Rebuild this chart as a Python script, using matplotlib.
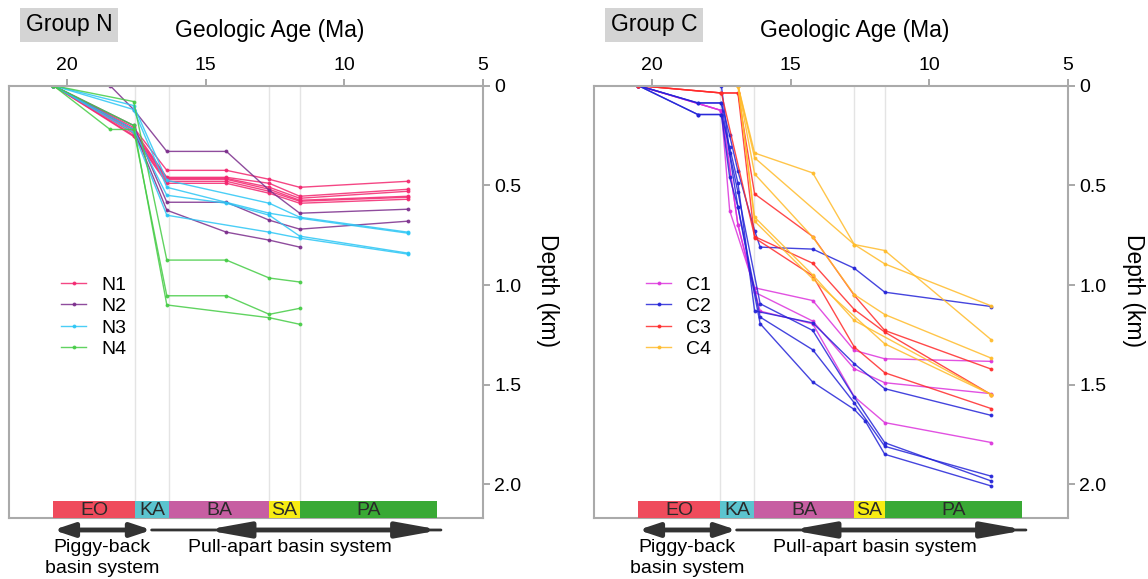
import numpy as np
import matplotlib.pyplot as plt

plt.rcParams['font.family'] = ['Liberation Sans', 'DejaVu Sans']

nan = np.nan

# ages (Ma) of the sampled horizons
age_n = [20.5, 18.45, 17.6, 16.4, 14.25, 12.7, 11.6, 7.7]
age_c = [20.5, 18.35, 17.5, 17.2, 16.9, 16.3, 16.1, 14.2, 12.7, 12.3, 11.6, 7.75]

# burial depth (km) per well, nan = no point at that age
n1 = [[0, nan, 0.21, 0.425, 0.425, 0.47, 0.51, 0.48],
      [0, nan, 0.22, 0.46, 0.46, 0.49, 0.555, 0.52],
      [0, nan, 0.23, 0.465, 0.465, 0.51, 0.565, 0.53],
      [0, nan, 0.24, 0.47, 0.47, 0.52, 0.575, 0.555],
      [0, nan, 0.25, 0.48, 0.48, 0.53, 0.58, 0.56],
      [0, nan, 0.255, 0.49, 0.49, 0.54, 0.59, 0.57]]
n2 = [[nan, 0, 0.12, 0.33, 0.33, 0.525, 0.64, 0.62],
      [0, nan, 0.2, 0.585, 0.585, 0.675, 0.72, 0.68],
      [0, nan, 0.22, 0.625, 0.735, 0.775, 0.81, nan]]
n3 = [[0, nan, 0.1, 0.475, nan, 0.59, 0.66, 0.735],
      [0, nan, 0.12, 0.51, nan, 0.64, 0.665, 0.74],
      [0, nan, 0.22, 0.55, 0.59, 0.65, 0.755, 0.84],
      [0, nan, 0.235, 0.65, nan, 0.735, 0.765, 0.845]]
n4 = [[0, nan, 0.08, 0.875, 0.875, 0.965, 0.985, nan],
      [0, 0.22, 0.22, 1.054, 1.054, 1.147, 1.117, nan],
      [0, nan, 0.2, 1.1, nan, 1.164, 1.197, nan]]

c1 = [[0, nan, 0.125, 0.627, nan, 1.014, nan, 1.078, 1.328, nan, 1.37, 1.383],
      [0, nan, 0.125, nan, 0.70, 1.036, nan, 1.181, 1.42, nan, 1.49, 1.545],
      [0, nan, 0.125, nan, 0.70, nan, 1.131, 1.195, 1.56, nan, 1.69, 1.79]]
c2 = [[0, 0.087, 0.087, 0.25, 0.43, 0.727, 0.81, 0.82, 0.916, nan, 1.036, 1.108],
      [0, 0.145, 0.145, 0.31, 0.49, 1.13, nan, 1.19, 1.395, nan, 1.52, 1.654],
      [nan, nan, 0, 0.34, 0.535, nan, 1.094, 1.228, 1.563, nan, 1.791, 1.983],
      [0, 0.145, 0.145, 0.46, 0.61, nan, 1.161, 1.325, 1.591, nan, 1.809, 1.959],
      [0, 0.087, 0.087, nan, 0.61, nan, 1.194, 1.487, 1.624, 1.683, 1.849, 2.008]]
c3 = [[0, nan, 0.037, nan, 0.037, 0.543, nan, 0.757, 1.052, nan, 1.228, 1.422],
      [0, nan, 0.037, nan, nan, 0.757, nan, 0.891, 1.123, nan, 1.236, 1.55],
      [0, nan, 0.037, nan, 0.037, 0.764, nan, 0.954, 1.311, nan, 1.44, 1.62]]
c4 = [[nan, nan, nan, nan, 0, 0.338, nan, 0.438, 0.797, nan, 0.827, 1.275],
      [nan, nan, nan, nan, 0, 0.362, nan, nan, 0.797, nan, 0.894, 1.105],
      [nan, nan, nan, nan, 0, 0.443, nan, 0.76, 1.048, nan, 1.148, 1.367],
      [nan, nan, nan, nan, 0, 0.68, nan, 0.969, nan, nan, 1.295, 1.55],
      [nan, nan, nan, nan, 0, 0.66, nan, 0.95, 1.178, nan, nan, 1.55]]

# stratigraphic stages along the bottom
stage_names = ['EO', 'KA', 'BA', 'SA', 'PA']
stage_start = [20.5, 17.55, 16.33, 12.7, 11.6]
stage_end = [17.55, 16.33, 12.7, 11.6, 6.65]
stage_colors = ['#ef4b5c', '#5bc4cf', '#c75ea2', '#f7ec13', '#39a935']

age_ticks = [20, 15, 10, 5]
depth_ticks = [0, 0.5, 1.0, 1.5, 2.0]
depth_ticklabels = ['0', '0.5', '1.0', '1.5', '2.0']

panels = [
    ('Group N', age_n, [('N1', n1, '#f3266f'), ('N2', n2, '#7b2d8c'),
                        ('N3', n3, '#2bc6f5'), ('N4', n4, '#45cc45')]),
    ('Group C', age_c, [('C1', c1, '#dc33dc'), ('C2', c2, '#2424d8'),
                        ('C3', c3, '#ff2a2a'), ('C4', c4, '#ffbb2a')]),
]

fig = plt.figure(figsize=(11.48, 5.79), dpi=100)
W, H = 1148, 579
lefts = [9, 594]
ax_w, ax_top, ax_bot = 473.5, 85.6, 518.3

for (title, ages, series), x0 in zip(panels, lefts):
    ax = fig.add_axes([x0 / W, 1 - ax_bot / H, ax_w / W, (ax_bot - ax_top) / H])
    ax.set_xlim(22.1, 5)
    ax.set_ylim(2.17, 0)

    for b in stage_end[:-1]:
        ax.axvline(b, color='#e4e4e4', lw=1, zorder=0)

    for name, wells, color in series:
        for i, d in enumerate(wells):
            d = np.array(d, dtype=float)
            m = ~np.isnan(d)
            ax.plot(np.array(ages)[m], d[m], color=color, lw=1, alpha=0.85,
                    marker='o', ms=1.8, label=name if i == 0 else None)

    for s, e, c, lab in zip(stage_start, stage_end, stage_colors, stage_names):
        ax.fill_between([s, e], 2.085, 2.17, color=c, lw=0, zorder=3)
        ax.text((s + e) / 2, 2.13, lab, ha='center', va='center', fontsize=14,
                color='#2a2a2a', zorder=4)

    ax.xaxis.tick_top()
    ax.yaxis.tick_right()
    ax.set_xticks(age_ticks)
    ax.set_yticks(depth_ticks)
    ax.set_yticklabels(depth_ticklabels)
    ax.tick_params(labelsize=14, color='#999999', length=5, width=1.2)
    for sp in ax.spines.values():
        sp.set_color('#aaaaaa')
        sp.set_linewidth(1.5)

    ax.legend(loc='upper left', bbox_to_anchor=(0.11, 0.56), frameon=False,
              fontsize=14, handlelength=1.3, handletextpad=0.75,
              labelspacing=0.2, borderpad=0, borderaxespad=0)

    # basin system arrows below the stage bar
    trans = ('data', 'axes fraction')
    ax.annotate('', xy=(20.5, -0.027), xytext=(16.95, -0.027), xycoords=trans,
                textcoords=trans, annotation_clip=False,
                arrowprops=dict(arrowstyle='<|-|>,head_length=1.2,head_width=0.4',
                                color='#333333', lw=3.5, shrinkA=0, shrinkB=0))
    ax.annotate('', xy=(16.95, -0.027), xytext=(6.5, -0.027), xycoords=trans,
                textcoords=trans, annotation_clip=False,
                arrowprops=dict(arrowstyle='-', color='#333333', lw=2,
                                shrinkA=0, shrinkB=0))
    ax.annotate('', xy=(15.0, -0.027), xytext=(6.5, -0.027), xycoords=trans,
                textcoords=trans, annotation_clip=False,
                arrowprops=dict(arrowstyle='<|-|>,head_length=2.5,head_width=0.45',
                                color='#333333', lw=3.5, shrinkA=0, shrinkB=0))
    ax.text(18.75, -0.068, 'Piggy-back', transform=ax.get_xaxis_transform(),
            ha='center', va='center', fontsize=14)
    ax.text(18.75, -0.115, 'basin system', transform=ax.get_xaxis_transform(),
            ha='center', va='center', fontsize=14)
    ax.text(11.95, -0.068, 'Pull-apart basin system', transform=ax.get_xaxis_transform(),
            ha='center', va='center', fontsize=14)

    fig.text((x0 + 261) / W, 1 - 30 / H, 'Geologic Age (Ma)', ha='center',
             va='center', fontsize=16.5)
    fig.text((x0 + 539) / W, 1 - 290 / H, 'Depth (km)', ha='center', va='center',
             rotation=270, fontsize=16.5)
    fig.text((x0 + 60) / W, 1 - 25 / H, title, ha='center', va='center',
             fontsize=16.5, bbox=dict(boxstyle='square,pad=0.25', fc='#d4d4d4', ec='none'))

fig.savefig('out.png', dpi=100)
